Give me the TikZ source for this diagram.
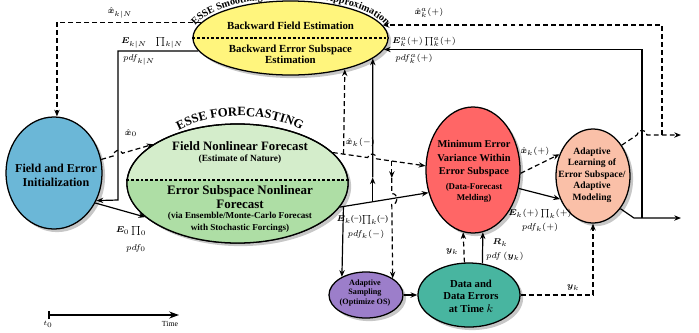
\documentclass[tikz,border=0pt]{standalone}
\usepackage{fontspec}
\setmainfont{Liberation Serif}
\usepackage{amsmath}
\usepackage{bm}
\usepackage{xcolor}
\usepackage{tikz}
\usetikzlibrary{arrows.meta, calc, shapes.geometric, shadows, decorations.text}
\definecolor{smoothyellow}{RGB}{255,245,125}
\definecolor{initblue}{RGB}{107,183,215}
\definecolor{fcstlight}{RGB}{212,237,203}
\definecolor{fcstdark}{RGB}{174,222,165}
\definecolor{meldred}{RGB}{255,102,102}
\definecolor{adaptsalmon}{RGB}{250,192,168}
\definecolor{sampviolet}{RGB}{156,126,202}
\definecolor{datateal}{RGB}{72,181,160}
\newcommand{\kmin}{\textup{(−)}}

\begin{document}
\begin{tikzpicture}[x=0.025cm, y=0.025cm,
  % ellipses: #1 = x radius, #2 = y radius (picture units)
  essebox/.style 2 args={ellipse, draw=black, line width=0.9pt, inner sep=0pt,
                         minimum width=#1*0.05cm, minimum height=#2*0.05cm,
                         drop shadow={shadow xshift=2.2pt, shadow yshift=-2.2pt,
                                      fill=black!22, opacity=1}},
  boxtext/.style={align=center, inner sep=0pt},
  lbl/.style={inner sep=0.5pt, font=\fontsize{6.3}{7}\selectfont},
  link/.style={line width=0.85pt},
  dlink/.style={line width=0.85pt, dash pattern=on 3.5pt off 2.2pt},
  divline/.style={line width=0.8pt, dash pattern=on 2pt off 1.4pt},
  arr/.style={-{Stealth[length=4.8pt, width=3.8pt]}},
  hop/.style={bend left=90, looseness=1.6}
]
\useasboundingbox (0,0) rectangle (699,-332);

% Smoothing
\node[essebox={97.5}{37}, fill=smoothyellow] (smooth) at (290.5,-38) {};
\draw[divline] (smooth.west) -- (smooth.east);
\node[boxtext, font=\fontsize{7.7}{9}\selectfont\bfseries] (smoothfld) at (290.5,-25.5)
    {Backward Field Estimation};
\node[boxtext, font=\fontsize{7.7}{7.8}\selectfont\bfseries] (smootherr) at (290.5,-54)
    {Backward Error Subspace\\Estimation};
\path[decorate, decoration={text along path, text align=center,
      text={|\fontsize{7.2}{8}\selectfont\bfseries|ESSE Smoothing via Statistical Approximation}}]
    ($(smooth.center)+(175:100 and 40)$) arc[start angle=175, end angle=5, x radius=100, y radius=40];

% Initialization
\node[essebox={48}{56}, fill=initblue] (init) at (54,-173) {};
\node[boxtext, font=\fontsize{8.6}{10}\selectfont\bfseries] (inittxt) at (56,-175)
    {Field and Error\\Initialization};

% Forecasting (two halves)
\node[essebox={110.5}{59.5}, fill=fcstlight] (fcst) at (237.5,-183.5) {};
\begin{scope}
  \clip (fcst.center) ellipse [x radius=110.5, y radius=59.5];
  \fill[fcstdark] ($(fcst.center)+(-115,3.5)$) rectangle ($(fcst.center)+(115,-65)$);
\end{scope}
\draw[line width=0.9pt] (fcst.center) ellipse [x radius=110.5, y radius=59.5];
\draw[divline] ($(fcst.west)+(0,3.5)$) -- ($(fcst.east)+(0,3.5)$);
\node[boxtext, font=\fontsize{9.1}{10}\selectfont\bfseries] (fcstfld) at (240,-146)
    {Field Nonlinear Forecast};
\node[boxtext, font=\fontsize{6.7}{8}\selectfont\bfseries] (fcstnat) at (240,-159.5)
    {(Estimate of Nature)};
\node[boxtext, font=\fontsize{9.2}{9.4}\selectfont\bfseries] (fcsterr) at (240,-197)
    {Error Subspace Nonlinear\\Forecast};
\node[boxtext, font=\fontsize{6.5}{8.5}\selectfont\bfseries] (fcstvia) at (240,-222)
    {(via Ensemble/Monte-Carlo Forecast\\with Stochastic Forcings)};
\path[decorate, decoration={text along path, text align=center,
      text={|\fontsize{9}{9}\selectfont\bfseries|ESSE FORECASTING}}]
    ($(fcst.center)+(2.5,0)+(135:100 and 67.5)$) arc[start angle=135, end angle=45, x radius=100, y radius=67.5];

% Data-forecast melding
\node[essebox={47}{63}, fill=meldred] (meld) at (473,-170) {};
\node[boxtext, font=\fontsize{7.4}{9.4}\selectfont\bfseries] (meldtxt) at (474,-158.5)
    {Minimum Error\\Variance Within\\Error Subspace};
\node[boxtext, font=\fontsize{6.3}{7.8}\selectfont\bfseries] (meldsub) at (474,-192.5)
    {(Data-Forecast\\Melding)};

% Adaptive learning
\node[essebox={37}{47}, fill=adaptsalmon] (adapt) at (593,-176) {};
\node[boxtext, font=\fontsize{6.8}{8.2}\selectfont\bfseries] (adapttxt) at (592,-175)
    {Adaptive\\Learning of\\Error Subspace/\\Adaptive\\Modeling};

% Adaptive sampling and data
\node[essebox={37}{23}, fill=sampviolet] (samp) at (366,-295) {};
\node[boxtext, font=\fontsize{5.8}{6.6}\selectfont\bfseries] (samptxt) at (365,-293)
    {Adaptive\\Sampling\\(Optimize OS)};
\node[essebox={51}{32}, fill=datateal] (data) at (469,-295) {};
\node[boxtext, font=\fontsize{7.6}{8.8}\selectfont\bfseries] (datatxt) at (471,-296)
    {Data and\\Data Errors\\at Time $k$};

% Smoothing feedback to initialization
\draw[dlink, arr] (smooth.170) -| (init.87);
\draw[link, arr] (smooth.188) -| (118,-200) -- (init.-33);
\node[lbl] (xsN) at (120,-13) {$\hat{\bm{x}}_{k|N}$};
\node[lbl] (EsN) at (152,-43) {$\bm{E}_{k|N}\quad\mathord{\prod}_{k|N}$};
\node[lbl] (pdfsN) at (139,-60) {$pdf_{k|N}$};

% Initialization to forecast
\draw[dlink, arr] (init.16) -- ($(init.16)!0.245!(fcst.155)$) to[hop]
    ($(init.16)!0.407!(fcst.155)$) -- (fcst.155);
\draw[link, arr] (init.-36) -- (fcst.200);
\node[lbl] (x0) at (131,-133) {$\hat{\bm{x}}_0$};
\node[lbl] (E0) at (131,-231) {$\bm{E}_0\,\mathord{\prod}_0$};
\node[lbl] (pdf0) at (136,-248) {$pdf_0$};

% Forecast to melding, with branches
\coordinate (fk) at (fcst.18);
\draw[dlink, arr] (fk) -- ($(fk)!0.376!(meld.175)$) to[hop]
    ($(fk)!0.472!(meld.175)$) -- (meld.175);
\coordinate (brU) at ($(fk)!0.116!(meld.175)$);
\draw[dlink, arr] (brU) -- (smooth.-30.7);
\coordinate (brC) at ($(fk)!0.637!(meld.175)$);
\draw[dlink, arr] (brC) -- ++(0,-17) coordinate (midC);
\draw[dlink, arr] (midC) -- ++(0,-15.5) to[hop] ++(0,-11) -- (samp.32.2);
\draw[link, arr] (fcst.-13.7) -- (meld.207.6);
\coordinate (brA) at ($(fcst.-13.7)!0.042!(meld.207.6)$);
\draw[link, arr] (brA) -- (samp.143.9);
\coordinate (brB) at ($(fcst.-13.7)!0.371!(meld.207.6)$);
\draw[link, arr] (brB) -- ++(0,24.4) coordinate (midB);
\draw[link, arr] (midB) -- (smooth.-14);
\node[lbl, anchor=west] (xkm) at (345,-142) {$\hat{\bm{x}}_k(-)$};
\node[lbl, anchor=east, font=\fontsize{6.2}{7}\selectfont] (Ekm) at (389,-220)
    {$\bm{E}_k$\kmin$\mathord{\prod}_k$\kmin};
\node[lbl, font=\fontsize{6}{7}\selectfont] (pdfkm) at (366,-234) {$pdf_k(-)$};

% Melding to adaptive learning
\draw[dlink, arr] (meld.-4) -- (adapt.147.5);
\draw[link, arr] (meld.-22) -- (adapt.215);
\node[lbl] (xkp) at (535,-151) {$\hat{\bm{x}}_k(+)$};
\node[lbl, font=\fontsize{5.9}{7}\selectfont] (Ekp) at (540,-214)
    {$\bm{E}_k(+)\ \mathord{\prod}_k(+)$};
\node[lbl, font=\fontsize{5.9}{7}\selectfont] (pdfkp) at (540,-227) {$pdf_k(+)$};

% Outputs forward in time and back to smoothing
\coordinate (fwdA) at (681,-135);
\coordinate (fwdB) at (681,-218);
\coordinate (upA) at (662,-135);
\coordinate (upB) at (642,-218);
\draw[dlink, arr] (adapt.47) -- (637,-135) to[hop] (647,-135) -- (fwdA);
\draw[dlink, arr] (upA) |- (smooth.8.8);
\draw[link, arr] (adapt.-50) -- (634,-218) -- (fwdB);
\draw[link, arr] (upB) |- (smooth.-7.4);
\node[lbl] (xka) at (429,-13) {$\hat{\bm{x}}_k^a(+)$};
\node[lbl, font=\fontsize{5.9}{7}\selectfont] (Eka) at (424,-42)
    {$\bm{E}_k^a(+)\,\mathord{\prod}_k^a(+)$};
\node[lbl, font=\fontsize{5.9}{7}\selectfont] (pdfka) at (414,-59) {$pdf_k^a(+)$};

% Data links
\draw[link, arr] (samp.east) -- (data.west);
\draw[dlink, arr] (data.98.9) -- (meld.261.7);
\draw[link, arr] (data.67.2) -- (meld.-81.7);
\draw[dlink, arr] (data.east) -| (adapt.south);
\node[lbl] (yk1) at (452,-252) {$\bm{y}_k$};
\node[lbl] (Rk) at (500,-243) {$\bm{R}_k$};
\node[lbl] (pdfy) at (505,-256) {$pdf\,(\bm{y}_k)$};
\node[lbl] (yk2) at (573,-288) {$\bm{y}_k$};

% Time axis
\coordinate (tstart) at (48,-315);
\coordinate (tstop) at (179,-315);
\draw[line width=1.1pt, {Bar[width=6pt]}-{Stealth[length=7pt, width=5pt]}] (tstart) -- (tstop);
\node[inner sep=0pt, font=\fontsize{5}{6}\selectfont] (t0) at (48,-324) {$t_0$};
\node[inner sep=0pt, font=\fontsize{5.5}{6}\selectfont] (tlbl) at (170,-324) {Time};

\end{tikzpicture}
\end{document}
